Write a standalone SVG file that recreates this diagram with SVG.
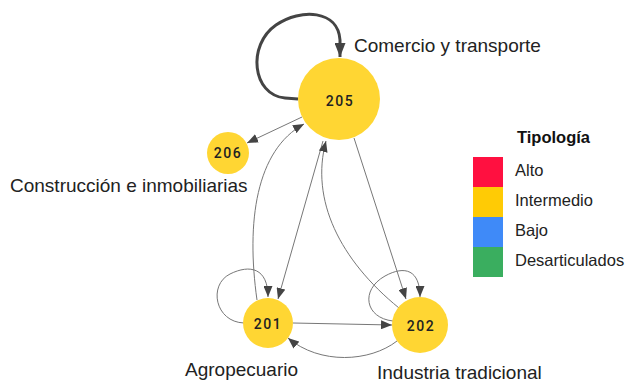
<svg xmlns="http://www.w3.org/2000/svg" width="633" height="383" viewBox="0 0 633 383">
<style>
.node circle{fill:#FFD633}
.nlab{font-family:Roboto,"Liberation Sans",Arial,sans-serif;font-size:14px;font-weight:500;fill:#222;text-anchor:middle;letter-spacing:1.6px}
.lab{font-family:"Liberation Sans",Arial,sans-serif;font-size:19px;fill:#222}
.edge{fill:none;stroke:#777;stroke-width:1;marker-end:url(#arr)}
.thick{fill:none;stroke:#444;stroke-width:3;marker-end:url(#arrb)}
.leg{font-family:"Liberation Sans",Arial,sans-serif;font-size:16.5px;fill:#222}
.legt{font-family:"Liberation Sans",Arial,sans-serif;font-size:16.5px;font-weight:bold;fill:#111}
</style>
<defs>
<marker id="arr" markerUnits="userSpaceOnUse" markerWidth="11" markerHeight="9" refX="11" refY="4.5" orient="auto">
<path d="M0,0 L11,4.5 L0,9 z" fill="#444"/>
</marker>
<marker id="arrb" markerUnits="userSpaceOnUse" markerWidth="14" markerHeight="11" refX="14" refY="5.5" orient="auto">
<path d="M0,0 L14,5.5 L0,11 z" fill="#444"/>
</marker>
</defs>
<g id="connectors">
<path class="thick" d="M298 99 L285 98 C252 95,247 45,276 25 C301 8,338 10,340 40 L340 57"/>
<path class="edge" d="M302 117 L247 143"/>
<path class="edge" d="M257 300 C246 222,256 150,304 124"/>
<path class="edge" d="M323 141 L278 299"/>
<path class="edge" d="M399 308 C340 260,310 200,326 141"/>
<path class="edge" d="M354 138 L406 299"/>
<path class="edge" d="M244 323 C215 322,208 285,230 274 C250 264,268 268,268 297"/>
<path class="edge" d="M393 321 C365 318,360 290,385 276 C405 265,420 270,420 297"/>
<path class="edge" d="M293 323 L392 325"/>
<path class="edge" d="M397 341 C370 362,320 365,288 338"/>
</g>
<g id="n205" class="node"><circle cx="339" cy="99" r="41"/><text class="nlab" x="340" y="106">205</text></g>
<g id="n206" class="node"><circle cx="228" cy="153" r="21"/><text class="nlab" x="228" y="158">206</text></g>
<g id="n201" class="node"><circle cx="268" cy="323" r="25"/><text class="nlab" x="268" y="329">201</text></g>
<g id="n202" class="node"><circle cx="420" cy="325" r="28"/><text class="nlab" x="421" y="331">202</text></g>
<g id="labels">
<text class="lab" x="354" y="52">Comercio y transporte</text>
<text class="lab" x="10" y="192">Construcción e inmobiliarias</text>
<text class="lab" x="185" y="376">Agropecuario</text>
<text class="lab" x="377" y="379">Industria tradicional</text>
</g>
<g id="legend">
<text class="legt" x="517" y="143">Tipología</text>
<rect x="473" y="157" width="30" height="30" fill="#FF1040"/>
<rect x="473" y="187" width="30" height="30" fill="#FFCB05"/>
<rect x="473" y="217" width="30" height="30" fill="#3F8AF8"/>
<rect x="473" y="247" width="30" height="30" fill="#3AAE5F"/>
<text class="leg" x="515" y="176">Alto</text>
<text class="leg" x="515" y="206">Intermedio</text>
<text class="leg" x="515" y="236">Bajo</text>
<text class="leg" x="515" y="266">Desarticulados</text>
</g>
</svg>
